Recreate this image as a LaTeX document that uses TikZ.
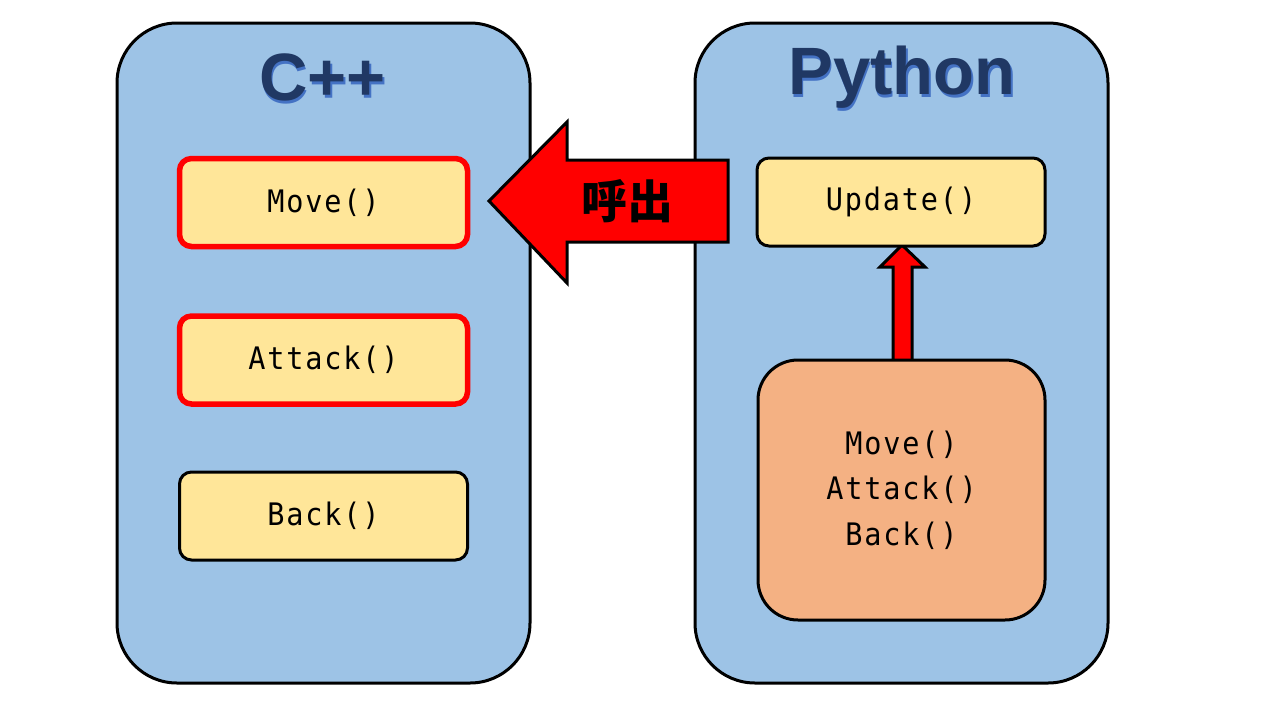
\documentclass[tikz,border=0pt]{standalone}
\usepackage{fontspec}
\newfontfamily\codefont{DejaVu Sans Mono}[FakeStretch=0.92, LetterSpace=6]
\newfontfamily\titlefont{Liberation Sans}
\newfontfamily\cjk{Noto Sans CJK JP}
\definecolor{contblue}{HTML}{9DC3E6}
\definecolor{boxyellow}{HTML}{FFE699}
\definecolor{boxorange}{HTML}{F4B183}
\definecolor{titledark}{HTML}{203864}
\definecolor{titleshadow}{HTML}{4472C4}
\begin{document}
\begin{tikzpicture}[x=1pt,y=-1pt,
  container/.style={draw=black, line width=3pt, fill=contblue, rounded corners=60pt,
    minimum width=413pt, minimum height=660pt, inner sep=0pt},
  funcbox/.style={draw=black, line width=3pt, fill=boxyellow, rounded corners=12pt,
    minimum width=288pt, minimum height=88pt, inner sep=0pt,
    font=\codefont\fontsize{31}{36}\selectfont},
  hotbox/.style={funcbox, draw=red, line width=5.5pt},
  groupbox/.style={draw=black, line width=3pt, fill=boxorange, rounded corners=40pt,
    minimum width=287pt, minimum height=260pt, inner sep=0pt, align=center,
    font=\codefont\fontsize{31}{45.5}\selectfont},
  titletext/.style={font=\titlefont\bfseries\fontsize{67}{70}\selectfont, inner sep=0pt},
  bigarrow/.style={draw=black, line width=3pt, fill=red, miter limit=10},
]
\useasboundingbox (0,0) rectangle (1280,720);
\fill[white] (0,0) rectangle (1280,720);

% containers
\node[container] (cpp) at (323.5,353) {};
\node[container] (py) at (901.5,353) {};

% titles
\node[titletext, text=titleshadow] at (324,80) {C++};
\node[titletext, text=titledark] (cpptitle) at (322.5,77.5) {C++};
\node[titletext, text=titleshadow] at (903.5,80) {Python};
\node[titletext, text=titledark] (pytitle) at (902,77.5) {Python};

% small arrow (drawn before boxes)
\draw[bigarrow] (902,245) -- (925,267) -- (912,267) -- (912,362) -- (893,362)
  -- (893,267) -- (880,267) -- cycle;

% C++ boxes
\node[hotbox] (move) at (323.5,202.5) {Move()};
\node[hotbox] (attack) at (323.5,360) {Attack()};
\node[funcbox] (back) at (323.5,516) {Back()};

% Python boxes
\node[funcbox] (update) at (901,202) {Update()};
\node[groupbox] (group) at (901.5,490) {Move()\\Attack()\\Back()};

% big call arrow
\draw[bigarrow] (489,201) -- (567,122) -- (567,160) -- (728,160) -- (728,242)
  -- (567,242) -- (567,283) -- cycle;
\node[font=\cjk\bfseries\fontsize{46}{48}\selectfont, inner sep=0pt] (call) at (627,201) {呼出};
\end{tikzpicture}
\end{document}
